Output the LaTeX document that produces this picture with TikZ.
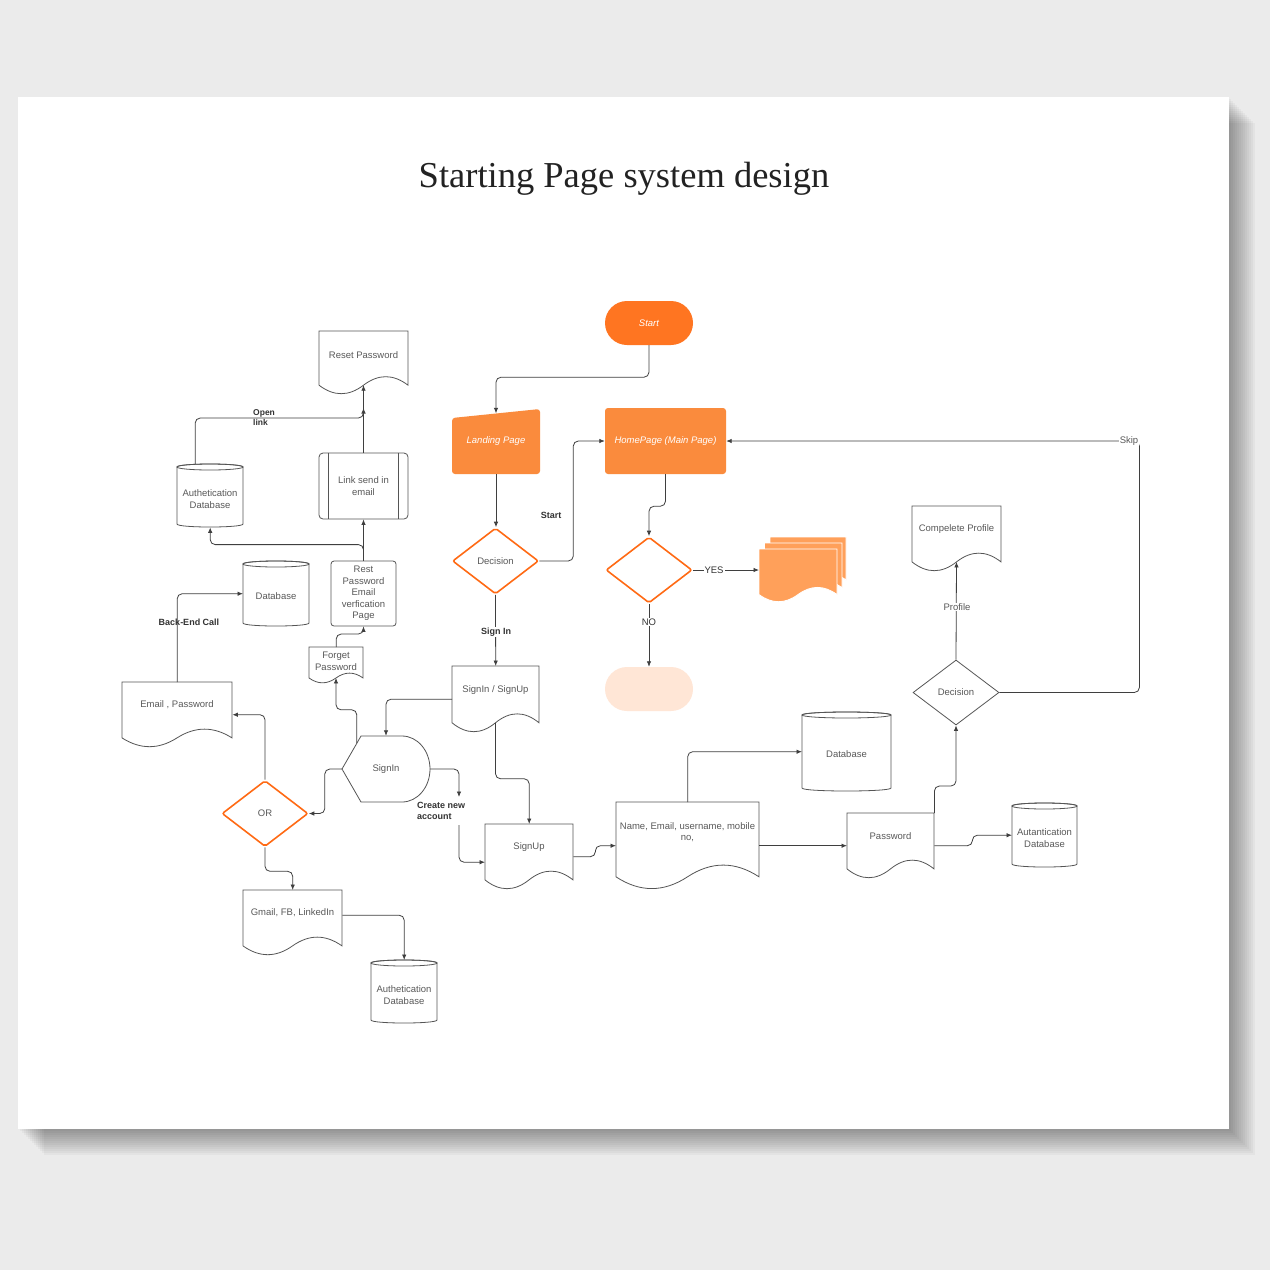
\documentclass[tikz,border=0pt]{standalone}
\usepackage{fontspec}
\setmainfont{Liberation Sans}
\newfontfamily\titlefont{Liberation Serif}
\usetikzlibrary{arrows.meta,shapes.geometric,calc}
\definecolor{bggray}{HTML}{EBEBEB}
\definecolor{linegray}{HTML}{555555}
\definecolor{connc}{HTML}{3F3F3F}
\definecolor{txtgray}{HTML}{595959}
\definecolor{boldtxt}{HTML}{333333}
\definecolor{titlec}{HTML}{222222}
\definecolor{orangeline}{HTML}{FF6A14}
\definecolor{startorange}{HTML}{FF7521}
\definecolor{pagefill}{HTML}{FA8B3D}
\definecolor{cardfill}{HTML}{FFA05A}
\definecolor{peachfill}{HTML}{FFE6D6}

% document shape: name, x0, y0, w, h, text-y, text
\newcommand\docshape[7]{%
  \draw[outl, fill=white] (#2,#3) -- (#2+#4,#3) -- (#2+#4,#3+0.86*#5)
    .. controls (#2+5*#4/6,#3+0.68*#5) and (#2+2*#4/3,#3+0.68*#5) .. (#2+#4/2,#3+0.86*#5)
    .. controls (#2+#4/3,#3+1.04*#5) and (#2+#4/6,#3+1.04*#5) .. (#2,#3+0.86*#5) -- cycle;
  \node[hitbox, minimum width=#4pt, minimum height=#5pt, anchor=north west] (#1) at (#2,#3) {};
  \coordinate (#1-b) at (#2+#4/2,#3+0.86*#5);
  \node[txt] (#1-t) at (#2+#4/2,#6) {#7};
}
% cylinder: name, x0, y0, w, h, text-y, text
\newcommand\cylshape[7]{%
  \draw[outl, fill=white] (#2,#3+3) -- (#2,#3+#5-3)
    .. controls (#2,#3+#5+1) and (#2+#4,#3+#5+1) .. (#2+#4,#3+#5-3)
    -- (#2+#4,#3+3) .. controls (#2+#4,#3-1) and (#2,#3-1) .. (#2,#3+3) -- cycle;
  \draw[outl] (#2+#4/2,#3+3) ellipse [x radius=#4/2, y radius=3];
  \node[hitbox, minimum width=#4pt, minimum height=#5pt, anchor=north west] (#1) at (#2,#3) {};
  \node[txt] (#1-t) at (#2+#4/2,#6) {#7};
}
% card outline (for multi document)
\newcommand\cardfillshape[4]{%
  \filldraw[fill=cardfill, draw=white, line width=0.9pt] (#1,#2) -- (#1+#3,#2) -- (#1+#3,#2+0.86*#4)
    .. controls (#1+5*#3/6,#2+0.68*#4) and (#1+2*#3/3,#2+0.68*#4) .. (#1+#3/2,#2+0.86*#4)
    .. controls (#1+#3/3,#2+1.04*#4) and (#1+#3/6,#2+1.04*#4) .. (#1,#2+0.86*#4) -- cycle;
}

\begin{document}
\begin{tikzpicture}[x=1pt,y=-1pt,
  outl/.style={draw=linegray, line width=0.8pt},
  txt/.style={font=\fontsize{9.5}{11.5}\selectfont, text=txtgray, align=center, inner sep=0pt},
  btxt/.style={font=\bfseries\fontsize{9}{10.5}\selectfont, text=boldtxt, align=center, inner sep=1pt},
  wtxt/.style={font=\itshape\fontsize{9.5}{11.5}\selectfont, text=white, align=center, inner sep=0pt},
  conn/.style={draw=connc, line width=0.8pt, rounded corners=5pt, -{Latex[length=5.5pt,width=4.5pt]}},
  hitbox/.style={inner sep=0pt, draw=none, fill=none},
  odiam/.style={diamond, draw=orangeline, line width=1.6pt, fill=white, minimum width=86pt, minimum height=66pt, inner sep=0pt, rounded corners=2pt, txt},
]
\useasboundingbox (0,0) rectangle (1270,1270);
\fill[bggray] (0,0) rectangle (1270,1270);
\foreach \o in {2,4,...,26} \fill[black, opacity=0.03] (18+\o,97+\o) rectangle (1229+\o,1129+\o);
\fill[white] (18,97) rectangle (1229,1129);

\node[font=\titlefont\fontsize{36.5}{40}\selectfont, text=titlec, anchor=base] (title) at (624,187) {Starting Page system design};

% ---------- orange flow ----------
\node[fill=startorange, rounded corners=22pt, minimum width=88pt, minimum height=44pt, wtxt] (start) at (649,323) {Start};
\fill[pagefill, rounded corners=3pt] (452,418) -- (540,409) -- (540,474) -- (452,474) -- cycle;
\node[hitbox, minimum width=88pt, minimum height=65pt, wtxt] (landing) at (496,441.5) {Landing Page};
\node[fill=pagefill, rounded corners=3pt, minimum width=121pt, minimum height=66pt, wtxt] (home) at (665.5,441) {HomePage (Main Page)};
\node[odiam] (dec1) at (495.5,561) {Decision};
\node[odiam] (dec2) at (649,570) {};
\cardfillshape{770}{537}{76}{50}
\cardfillshape{764.5}{543}{77.5}{52}
\cardfillshape{759}{549}{78}{53}
\node[hitbox, minimum width=78pt, minimum height=53pt, anchor=north west] (cards) at (759,549) {};
\node[fill=peachfill, rounded corners=22pt, minimum width=88pt, minimum height=44pt] (peach) at (649,689) {};

% ---------- left part ----------
\docshape{resetpw}{319}{331}{89}{63}{355}{Reset Password}
\node[outl, fill=white, rounded corners=4pt, minimum width=89pt, minimum height=66pt, txt] (linksend) at (363.5,486) {Link send in\\email};
\draw[outl] ([xshift=10pt]linksend.north west) -- ([xshift=10pt]linksend.south west);
\draw[outl] ([xshift=-10pt]linksend.north east) -- ([xshift=-10pt]linksend.south east);
\cylshape{authdb1}{177}{464}{66}{63}{499}{Authetication\\Database}
\cylshape{db1}{243}{561}{66}{65}{596}{Database}
\node[outl, fill=white, rounded corners=3pt, minimum width=65pt, minimum height=65pt, txt] (restpw) at (363.5,593.5) {Rest\\Password\\Email\\verfication\\Page};
\docshape{forgetpw}{309}{647}{54}{36}{661.5}{Forget\\Password}
\docshape{emailpw}{122}{682}{110}{65}{705}{Email , Password}
\node[odiam] (orn) at (265,813.5) {OR};
\docshape{gmail}{243}{890}{99}{65}{913}{Gmail, FB, LinkedIn}
\cylshape{authdb2}{371}{960}{66}{63}{995}{Authetication\\Database}
\draw[outl, fill=white] (342,769) -- (361,736) -- (402,736) .. controls (417.5,736) and (430,750.8) .. (430,769) .. controls (430,787.2) and (417.5,802) .. (402,802) -- (361,802) -- cycle;
\node[hitbox, minimum width=88pt, minimum height=66pt, txt] (signin) at (386,769) {SignIn};

% ---------- center / right ----------
\docshape{signinup}{452}{666}{87}{66}{690}{SignIn / SignUp}
\docshape{signup}{485}{824}{88}{65}{847}{SignUp}
\docshape{namedoc}{616}{802}{143}{87}{832}{Name, Email, username, mobile\\no,}
\cylshape{db2}{802}{712}{89}{79}{754}{Database}
\docshape{password}{847}{813}{87}{65}{836}{Password}
\cylshape{authdb3}{1012}{803}{65}{64}{838}{Autantication\\Database}
\node[diamond, outl, fill=white, minimum width=86pt, minimum height=65pt, inner sep=0pt, txt] (dec3) at (956,692.5) {Decision};
\docshape{profile}{912}{506}{89}{65}{529}{Compelete Profile}

% ---------- coordinates ----------
\coordinate (crtop) at (459,797);
\coordinate (crbot) at (459,825);
\coordinate (olturn) at (363.5,418);
\coordinate (olend) at (363.5,408);

% ---------- connectors ----------
\draw[conn] (start.south) -- ++(0,32) -| ([yshift=-4.5pt]landing.north);
\draw[conn] (landing.south) -- (landing.south |- dec1.north);
\draw[conn] (dec1.east) -- ++(34,0) |- (home.west);
\draw[conn] (dec1.south) -- (signinup.north);
\draw[conn] (home.south) -- ++(0,32) -| (dec2.north);
\draw[conn] (dec2.east) -- (dec2.east -| cards.west);
\draw[conn] (dec2.south) -- (peach.north);
\draw[conn] (signinup.west) -| (signin.north);
\draw[conn] (signinup-b) -- ++(0,56) -| (signup.north);
\draw[conn] (signin.east) -| (crtop);
\draw[conn] (crbot) |- ([yshift=-5.5pt]signup.west);
\draw[conn] ([xshift=15pt,yshift=-7pt]signin.north west) -- ++(0,-33) -| (forgetpw-b);
\draw[conn] (forgetpw.north) -- ++(0,-13) -| (restpw.south);
\draw[conn] (restpw.north) -- ++(0,-16) -| (authdb1.south);
\draw[conn] (restpw.north) -- (linksend.south);
\draw[conn] (linksend.north) -- (resetpw-b);
\draw[conn] ([xshift=-15pt]authdb1.north) |- (olturn) -- (olend);
\draw[conn] (emailpw.north) |- (db1.west);
\draw[conn] (orn.north) |- (emailpw.east);
\draw[conn] (signin.west) -- ++(-17,0) |- (orn.east);
\draw[conn] (orn.south) -- ++(0,24) -| (gmail.north);
\draw[conn] ([yshift=7.5pt]gmail.east) -| (authdb2.north);
\draw[conn] (signup.east) -- ++(22,0) |- (namedoc.west);
\draw[conn] (namedoc.north) |- (db2.west);
\draw[conn] (namedoc.east) -- (password.west);
\draw[conn] (password.north east) -- ++(0,-27) -| (dec3.south);
\draw[conn] (password.east) -- ++(38,0) |- (authdb3.west);
\draw[conn] (dec3.east) -- ++(140,0) |- (home.east);
\draw[conn] (dec3.north) -- (profile-b);

% ---------- labels ----------
\node[btxt] (lstart) at (551,515) {Start};
\node[btxt, fill=white] (lsignin) at (496,632) {Sign In};
\node[btxt] (lbackend) at (189,622) {Back-End Call};
\node[btxt, align=left, anchor=west] (lcreate) at (416,811) {Create new\\account};
\node[btxt, align=left, anchor=west, font=\bfseries\fontsize{8.5}{10}\selectfont] (lopen) at (252,418) {Open\\link};
\node[txt, text=boldtxt, fill=white, inner sep=1pt] (lyes) at (714,570.5) {YES};
\node[txt, text=boldtxt, fill=white, inner sep=1pt] (lno) at (649,622) {NO};
\node[txt, fill=white, inner sep=1pt] (lskip) at (1129,441) {Skip};
\node[txt, fill=white, inner sep=1pt] (lprofile) at (957,607) {Profile};
\end{tikzpicture}
\end{document}
